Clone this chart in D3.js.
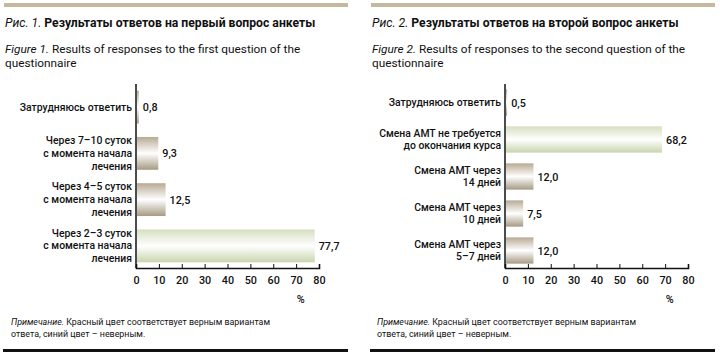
<!DOCTYPE html>
<html>
<head>
<meta charset="utf-8">
<script src="https://cdn.jsdelivr.net/npm/d3@7"></script>
<style>
  body { margin: 0; background: #fff; }
  text { font-family: Roboto, "Open Sans", sans-serif; fill: #111; }
</style>
</head>
<body>
<svg id="chart" width="720" height="358"></svg>
<script>
// --- data ---
const categories1 = [
    ["Затрудняюсь ответить"],
    ["Через 7–10 суток", "с момента начала", "лечения"],
    ["Через 4–5 суток", "с момента начала", "лечения"],
    ["Через 2–3 суток", "с момента начала", "лечения"]
];
const values1 = [0.8, 9.3, 12.5, 77.7];
const correct1 = 3;

const categories2 = [
    ["Затрудняюсь ответить"],
    ["Смена АМТ не требуется", "до окончания курса"],
    ["Смена АМТ через", "14 дней"],
    ["Смена АМТ через", "10 дней"],
    ["Смена АМТ через", "5–7 дней"]
];
const values2 = [0.5, 68.2, 12.0, 7.5, 12.0];
const correct2 = 1;

const xTicks = [0, 10, 20, 30, 40, 50, 60, 70, 80];
const unitLabel = "%";

const titleRu1 = ["Рис. 1.", "Результаты ответов на первый вопрос анкеты"];
const titleEn1 = ["Figure 1.", "Results of responses to the first question of the", "questionnaire"];
const titleRu2 = ["Рис. 2.", "Результаты ответов на второй вопрос анкеты"];
const titleEn2 = ["Figure 2.", "Results of responses to the second question of the", "questionnaire"];
const noteLines = ["Примечание.", "Красный цвет соответствует верным вариантам", "ответа, синий цвет – неверным."];

const svg = d3.select("#chart");
const fmt = d3.formatLocale({decimal: ",", thousands: " ", grouping: [3], currency: ["", ""]}).format(".1f");

// bar gradients: dark edges, white middle
const defs = svg.append("defs");
function addGradient(id, top, bottom) {
    const g = defs.append("linearGradient").attr("id", id)
        .attr("x1", 0).attr("y1", 0).attr("x2", 0).attr("y2", 1);
    g.append("stop").attr("offset", "0%").attr("stop-color", top);
    g.append("stop").attr("offset", "50%").attr("stop-color", "#ffffff");
    g.append("stop").attr("offset", "100%").attr("stop-color", bottom);
}
addGradient("brown", "#b7aa93", "#a69a83");
addGradient("green", "#d5dfc1", "#c8d5ae");

function drawPanel(p) {
    const g = svg.append("g").attr("transform", `translate(${p.ox},0)`);

    // header rule
    g.append("rect").attr("x", 4).attr("y", 3).attr("width", 344).attr("height", 4)
        .attr("fill", "#c6b89e");

    const t = g.append("text").attr("x", 5).attr("y", 27).attr("font-size", 12.2);
    t.append("tspan").attr("font-style", "italic").text(p.titleRu[0] + " ");
    t.append("tspan").attr("font-weight", "bold").text(p.titleRu[1]);

    const e = g.append("text").attr("x", 5).attr("y", 53).attr("font-size", 11.8);
    e.append("tspan").attr("font-style", "italic").text(p.titleEn[0] + " ");
    e.append("tspan").text(p.titleEn[1]);
    g.append("text").attr("x", 5).attr("y", 67).attr("font-size", 11.8).text(p.titleEn[2]);

    // scales
    const x = d3.scaleLinear().domain([0, 80]).range([p.axisX, p.axisX + 183]);
    const y = d3.scaleBand().domain(d3.range(p.values.length))
        .range([84, 269]).paddingInner(0.29).paddingOuter(0.145);

    // bars
    g.selectAll("rect.bar").data(p.values).join("rect")
        .attr("class", "bar")
        .attr("x", x(0) + 1)
        .attr("y", (d, i) => y(i))
        .attr("width", d => x(d) - x(0))
        .attr("height", y.bandwidth())
        .attr("fill", (d, i) => i === p.correct ? "url(#green)" : "url(#brown)");

    // value labels
    g.selectAll("text.val").data(p.values).join("text")
        .attr("class", "val")
        .attr("x", d => x(d) + 5)
        .attr("y", (d, i) => y(i) + y.bandwidth() / 2 + 4)
        .attr("font-size", 10.8)
        .attr("font-weight", 500)
        .text(d => fmt(d));

    // category labels
    const lh = 12.8;
    p.categories.forEach((lines, i) => {
        const cy = y(i) + y.bandwidth() / 2;
        const txt = g.append("text")
            .attr("text-anchor", "end")
            .attr("font-size", 10.4)
            .attr("font-weight", 500)
            .attr("y", cy - (lines.length - 1) * lh / 2 + 3.5);
        lines.forEach((l, j) => {
            txt.append("tspan").attr("x", p.axisX - 4).attr("dy", j === 0 ? 0 : lh).text(l);
        });
    });

    // vertical axis line
    g.append("line").attr("x1", x(0)).attr("x2", x(0)).attr("y1", 84).attr("y2", 268)
        .attr("stroke", "#111").attr("stroke-width", 1.5);

    // x axis
    const ax = g.append("g").attr("transform", "translate(0,268)")
        .call(d3.axisBottom(x).tickValues(xTicks).tickSizeInner(-4).tickSizeOuter(-4).tickPadding(8));
    ax.attr("font-family", null);
    ax.select(".domain").attr("stroke", "#111").attr("stroke-width", 1.6);
    ax.selectAll(".tick line").attr("stroke", "#111");
    ax.selectAll(".tick text").attr("font-size", 10.8).attr("font-weight", 500).attr("fill", "#111");

    g.append("text").attr("x", x(72)).attr("y", 303).attr("text-anchor", "middle")
        .attr("font-size", 10.8).attr("font-weight", 500).text(unitLabel);

    // note
    const n = g.append("text").attr("x", p.noteX).attr("y", 325).attr("font-size", 8.9);
    n.append("tspan").attr("font-style", "italic").text(noteLines[0] + " ");
    n.append("tspan").text(noteLines[1]);
    g.append("text").attr("x", p.noteX).attr("y", 337).attr("font-size", 8.9).text(noteLines[2]);

    // footer rule
    g.append("rect").attr("x", 3).attr("y", 349).attr("width", 345).attr("height", 3)
        .attr("fill", "#111");
}

drawPanel({ox: 0, axisX: 136, noteX: 11, values: values1, categories: categories1,
    correct: correct1, titleRu: titleRu1, titleEn: titleEn1});
drawPanel({ox: 367, axisX: 138, noteX: 10, values: values2, categories: categories2,
    correct: correct2, titleRu: titleRu2, titleEn: titleEn2});
</script>
</body>
</html>
